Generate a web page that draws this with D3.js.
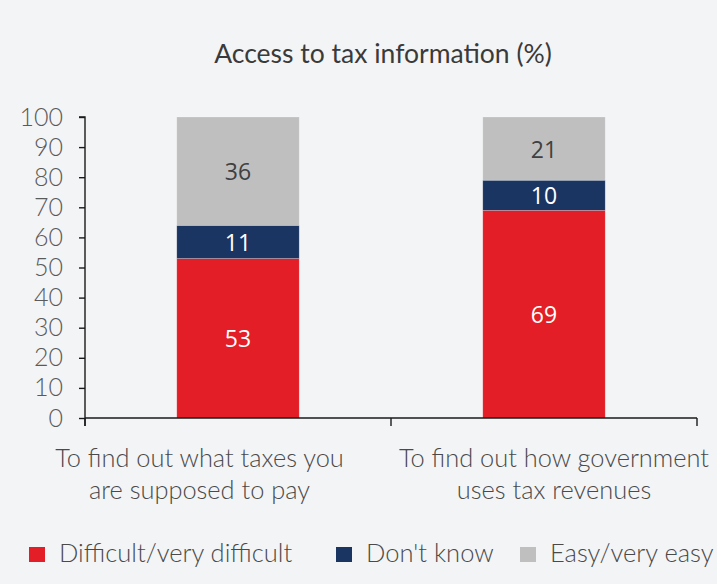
<!DOCTYPE html>
<html>
<head>
<meta charset="utf-8">
<script src="https://cdn.jsdelivr.net/npm/d3@7"></script>
<style>
  html, body { margin: 0; padding: 0; background: #f3f4f6; }
  svg { display: block; }
</style>
</head>
<body>
<svg id="chart" width="717" height="584"></svg>
<script>
// Survey categories (two wrapped lines each)
const categories = [
  "To find out what taxes you|are supposed to pay",
  "To find out how government|uses tax revenues"
];
const seriesNames = ["Difficult/very difficult", "Don't know", "Easy/very easy"];
const difficult = [53, 69];
const dontKnow = [11, 10];
const easy = [36, 21];
const yTicks = [0, 10, 20, 30, 40, 50, 60, 70, 80, 90, 100];
const title = "Access to tax information (%)";

const colors = ["#e31e26", "#1b3562", "#bfbfbf"];
const labelColors = ["#ffffff", "#ffffff", "#404040"];

const svg = d3.select("#chart");
const W = 717, H = 584;
svg.append("rect").attr("width", W).attr("height", H).attr("fill", "#f3f4f6");

const margin = { left: 85, right: 20, top: 117, bottom: 166 };
const x = d3.scaleBand()
  .domain(categories)
  .range([margin.left, W - margin.right])
  .paddingInner(0.6)
  .paddingOuter(0.3);
const y = d3.scaleLinear().domain([0, 100]).range([H - margin.bottom, margin.top]);

const rows = categories.map((c, i) => ({ cat: c, d: difficult[i], k: dontKnow[i], e: easy[i] }));
const stack = d3.stack().keys(["d", "k", "e"])(rows);

// Title
svg.append("text")
  .attr("x", 383).attr("y", 63)
  .attr("text-anchor", "middle")
  .attr("font-family", "Lato, sans-serif")
  .attr("font-size", 26.5)
  .attr("fill", "#3a3a3a")
  .text(title);

// Stacked bars
const layers = svg.append("g").selectAll("g")
  .data(stack).join("g")
  .attr("fill", (d, i) => colors[i]);

layers.selectAll("rect")
  .data(d => d.map(p => ({ p, key: d.key })))
  .join("rect")
  .attr("x", d => x(d.p.data.cat))
  .attr("width", x.bandwidth())
  .attr("y", d => y(d.p[1]))
  .attr("height", d => y(d.p[0]) - y(d.p[1]))
  .attr("stroke", "rgba(255,255,255,0.35)")
  .attr("stroke-width", 0.6);

// Value labels inside segments
stack.forEach((layer, i) => {
  svg.append("g").selectAll("text")
    .data(layer).join("text")
    .attr("x", d => x(d.data.cat) + x.bandwidth() / 2)
    .attr("y", d => y((d[0] + d[1]) / 2))
    .attr("dy", "0.4em")
    .attr("text-anchor", "middle")
    .attr("font-family", "'Open Sans', sans-serif")
    .attr("font-size", 23)
    .attr("fill", labelColors[i])
    .text(d => d[1] - d[0]);
});

// Y axis
const yAxis = svg.append("g")
  .attr("transform", `translate(${margin.left},0)`)
  .call(d3.axisLeft(y).tickValues(yTicks).tickSize(6).tickPadding(16));
yAxis.select(".domain").attr("stroke", "#1a1a1a").attr("stroke-width", 1.4)
  .attr("d", `M-6,${y(100)}H0V${y(0) + 8}`);
yAxis.selectAll(".tick line").attr("stroke", "#1a1a1a").attr("stroke-width", 1.4);
yAxis.selectAll(".tick text")
  .attr("font-family", "Lato, sans-serif")
  .attr("font-weight", 300)
  .attr("font-size", 25)
  .attr("fill", "#5a5a5a");

// X axis: line with ticks at band boundaries
const xAxisY = y(0);
const boundaries = [x.range()[0], (x.range()[0] + x.range()[1]) / 2, x.range()[1]];
const xg = svg.append("g");
xg.append("line")
  .attr("x1", x.range()[0]).attr("x2", x.range()[1])
  .attr("y1", xAxisY).attr("y2", xAxisY)
  .attr("stroke", "#1a1a1a").attr("stroke-width", 1.4);
xg.selectAll("line.tk").data(boundaries).join("line")
  .attr("class", "tk")
  .attr("x1", d => d).attr("x2", d => d)
  .attr("y1", xAxisY).attr("y2", xAxisY + 8)
  .attr("stroke", "#1a1a1a").attr("stroke-width", 1.4);

// Category labels
const labelShift = [-38.5, 10];
categories.forEach((c, i) => {
  const cx = x(c) + x.bandwidth() / 2 + labelShift[i];
  const t = svg.append("text")
    .attr("text-anchor", "middle")
    .attr("font-family", "Lato, sans-serif")
    .attr("font-weight", 300)
    .attr("font-size", 25.4)
    .attr("fill", "#4a4a4a");
  c.split("|").forEach((line, j) => {
    t.append("tspan").attr("x", cx).attr("y", 467 + j * 32).text(line);
  });
});

// Legend
const legendX = [29, 336, 520];
const lg = svg.append("g");
seriesNames.forEach((name, i) => {
  lg.append("rect")
    .attr("x", legendX[i]).attr("y", 547)
    .attr("width", 16).attr("height", 15)
    .attr("fill", colors[i]);
  lg.append("text")
    .attr("x", legendX[i] + 30).attr("y", 562)
    .attr("font-family", "Lato, sans-serif")
    .attr("font-weight", 300)
    .attr("font-size", 25.5)
    .attr("fill", "#4a4a4a")
    .text(name);
});
</script>
</body>
</html>
